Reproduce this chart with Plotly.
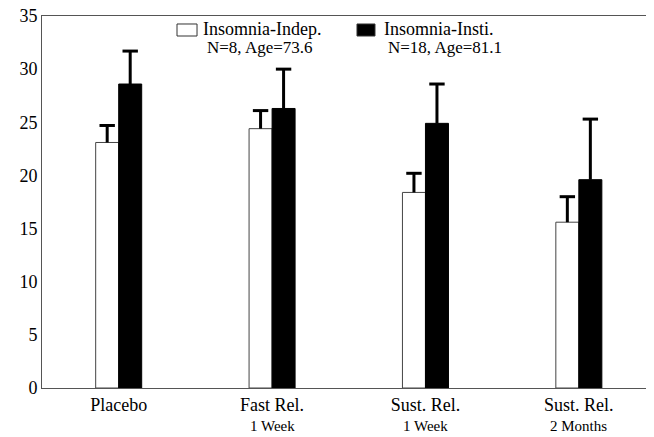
import plotly.graph_objects as go

categories = ["Placebo", "Fast Rel.", "Sust. Rel.", "Sust. Rel."]
sublabels = ["", "1 Week", "1 Week", "2 Months"]
indep_vals = [23.1, 24.4, 18.4, 15.6]
indep_err = [1.6, 1.7, 1.8, 2.4]
insti_vals = [28.6, 26.3, 24.9, 19.6]
insti_err = [3.1, 3.7, 3.7, 5.7]
series_names = ["Insomnia-Indep.", "Insomnia-Insti."]
series_notes = ["N=8, Age=73.6", "N=18, Age=81.1"]
y_ticks = [0, 5, 10, 15, 20, 25, 30, 35]

xs = list(range(len(categories)))
FONT = "Liberation Serif"

fig = go.Figure()
for name, vals, errs, fill, grp in [
    (series_names[0], indep_vals, indep_err, "white", "a"),
    (series_names[1], insti_vals, insti_err, "black", "b"),
]:
    fig.add_trace(go.Bar(
        x=xs, y=vals, name=name, offsetgroup=grp,
        marker=dict(color=fill, line=dict(color="#444" if fill == "white" else "black", width=1)),
        error_y=dict(type="data", symmetric=False, array=errs,
                     arrayminus=[0] * len(errs), color="black",
                     thickness=3, width=0),
    ))
for vals, errs, grp in [(indep_vals, indep_err, "a"), (insti_vals, insti_err, "b")]:
    # top caps of the error bars (T shape, no cap at the bar top)
    fig.add_trace(go.Scatter(
        x=xs, y=[v + e for v, e in zip(vals, errs)], mode="markers",
        offsetgroup=grp, showlegend=False, hoverinfo="skip",
        marker=dict(symbol="line-ew", size=11, color="black",
                    line=dict(color="black", width=3)),
    ))

# category sub-labels
for x, s in zip(xs, sublabels):
    if s:
        fig.add_annotation(x=x, y=-0.102, xref="x", yref="paper", text=s,
                           showarrow=False, yanchor="middle",
                           font=dict(family=FONT, size=15, color="black"))

# hand-built legend (symbol boxes + two-line labels)
legend_spec = [
    # box x0, x1, fill, text x, note x
    (0.2206, 0.2533, "white", 0.2598, 0.2663),
    (0.5147, 0.5441, "black", 0.5556, 0.5621),
]
for (bx0, bx1, fill, tx, nx), name, note in zip(legend_spec, series_names, series_notes):
    fig.add_shape(type="rect", xref="paper", yref="paper",
                  x0=bx0, x1=bx1, y0=0.9462, y1=0.9785,
                  fillcolor=fill, line=dict(color="#333", width=1))
    fig.add_annotation(x=tx, y=0.964, xref="paper", yref="paper", text=name,
                       showarrow=False, xanchor="left", yanchor="middle",
                       font=dict(family=FONT, size=18, color="black"))
    fig.add_annotation(x=nx, y=0.914, xref="paper", yref="paper", text=note,
                       showarrow=False, xanchor="left", yanchor="middle",
                       font=dict(family=FONT, size=17, color="black"))

# page body has an 8px margin, so the figure is shifted; compensate
fig.update_layout(
    width=646, height=429,
    margin=dict(l=34, r=0, t=8, b=49, autoexpand=False),
    paper_bgcolor="white", plot_bgcolor="white",
    barmode="group", bargap=0.70, bargroupgap=0,
    scattermode="group", scattergap=0.70,
    font=dict(family=FONT, color="black"),
    showlegend=False,
)
fig.update_xaxes(
    range=[-0.5, 3.49], tickmode="array", tickvals=xs, ticktext=categories,
    showline=True, linecolor="#555", linewidth=1, mirror=True,
    showgrid=False, zeroline=False, ticks="", automargin=False,
    tickfont=dict(family=FONT, size=18, color="black"),
)
fig.update_yaxes(
    range=[0, 35], tickvals=y_ticks, ticklabeloverflow="allow",
    showline=True, linecolor="#555", linewidth=1,
    showgrid=False, zeroline=False, ticks="", automargin=False,
    tickfont=dict(family=FONT, size=18, color="black"),
)

fig.write_html("out.html")
